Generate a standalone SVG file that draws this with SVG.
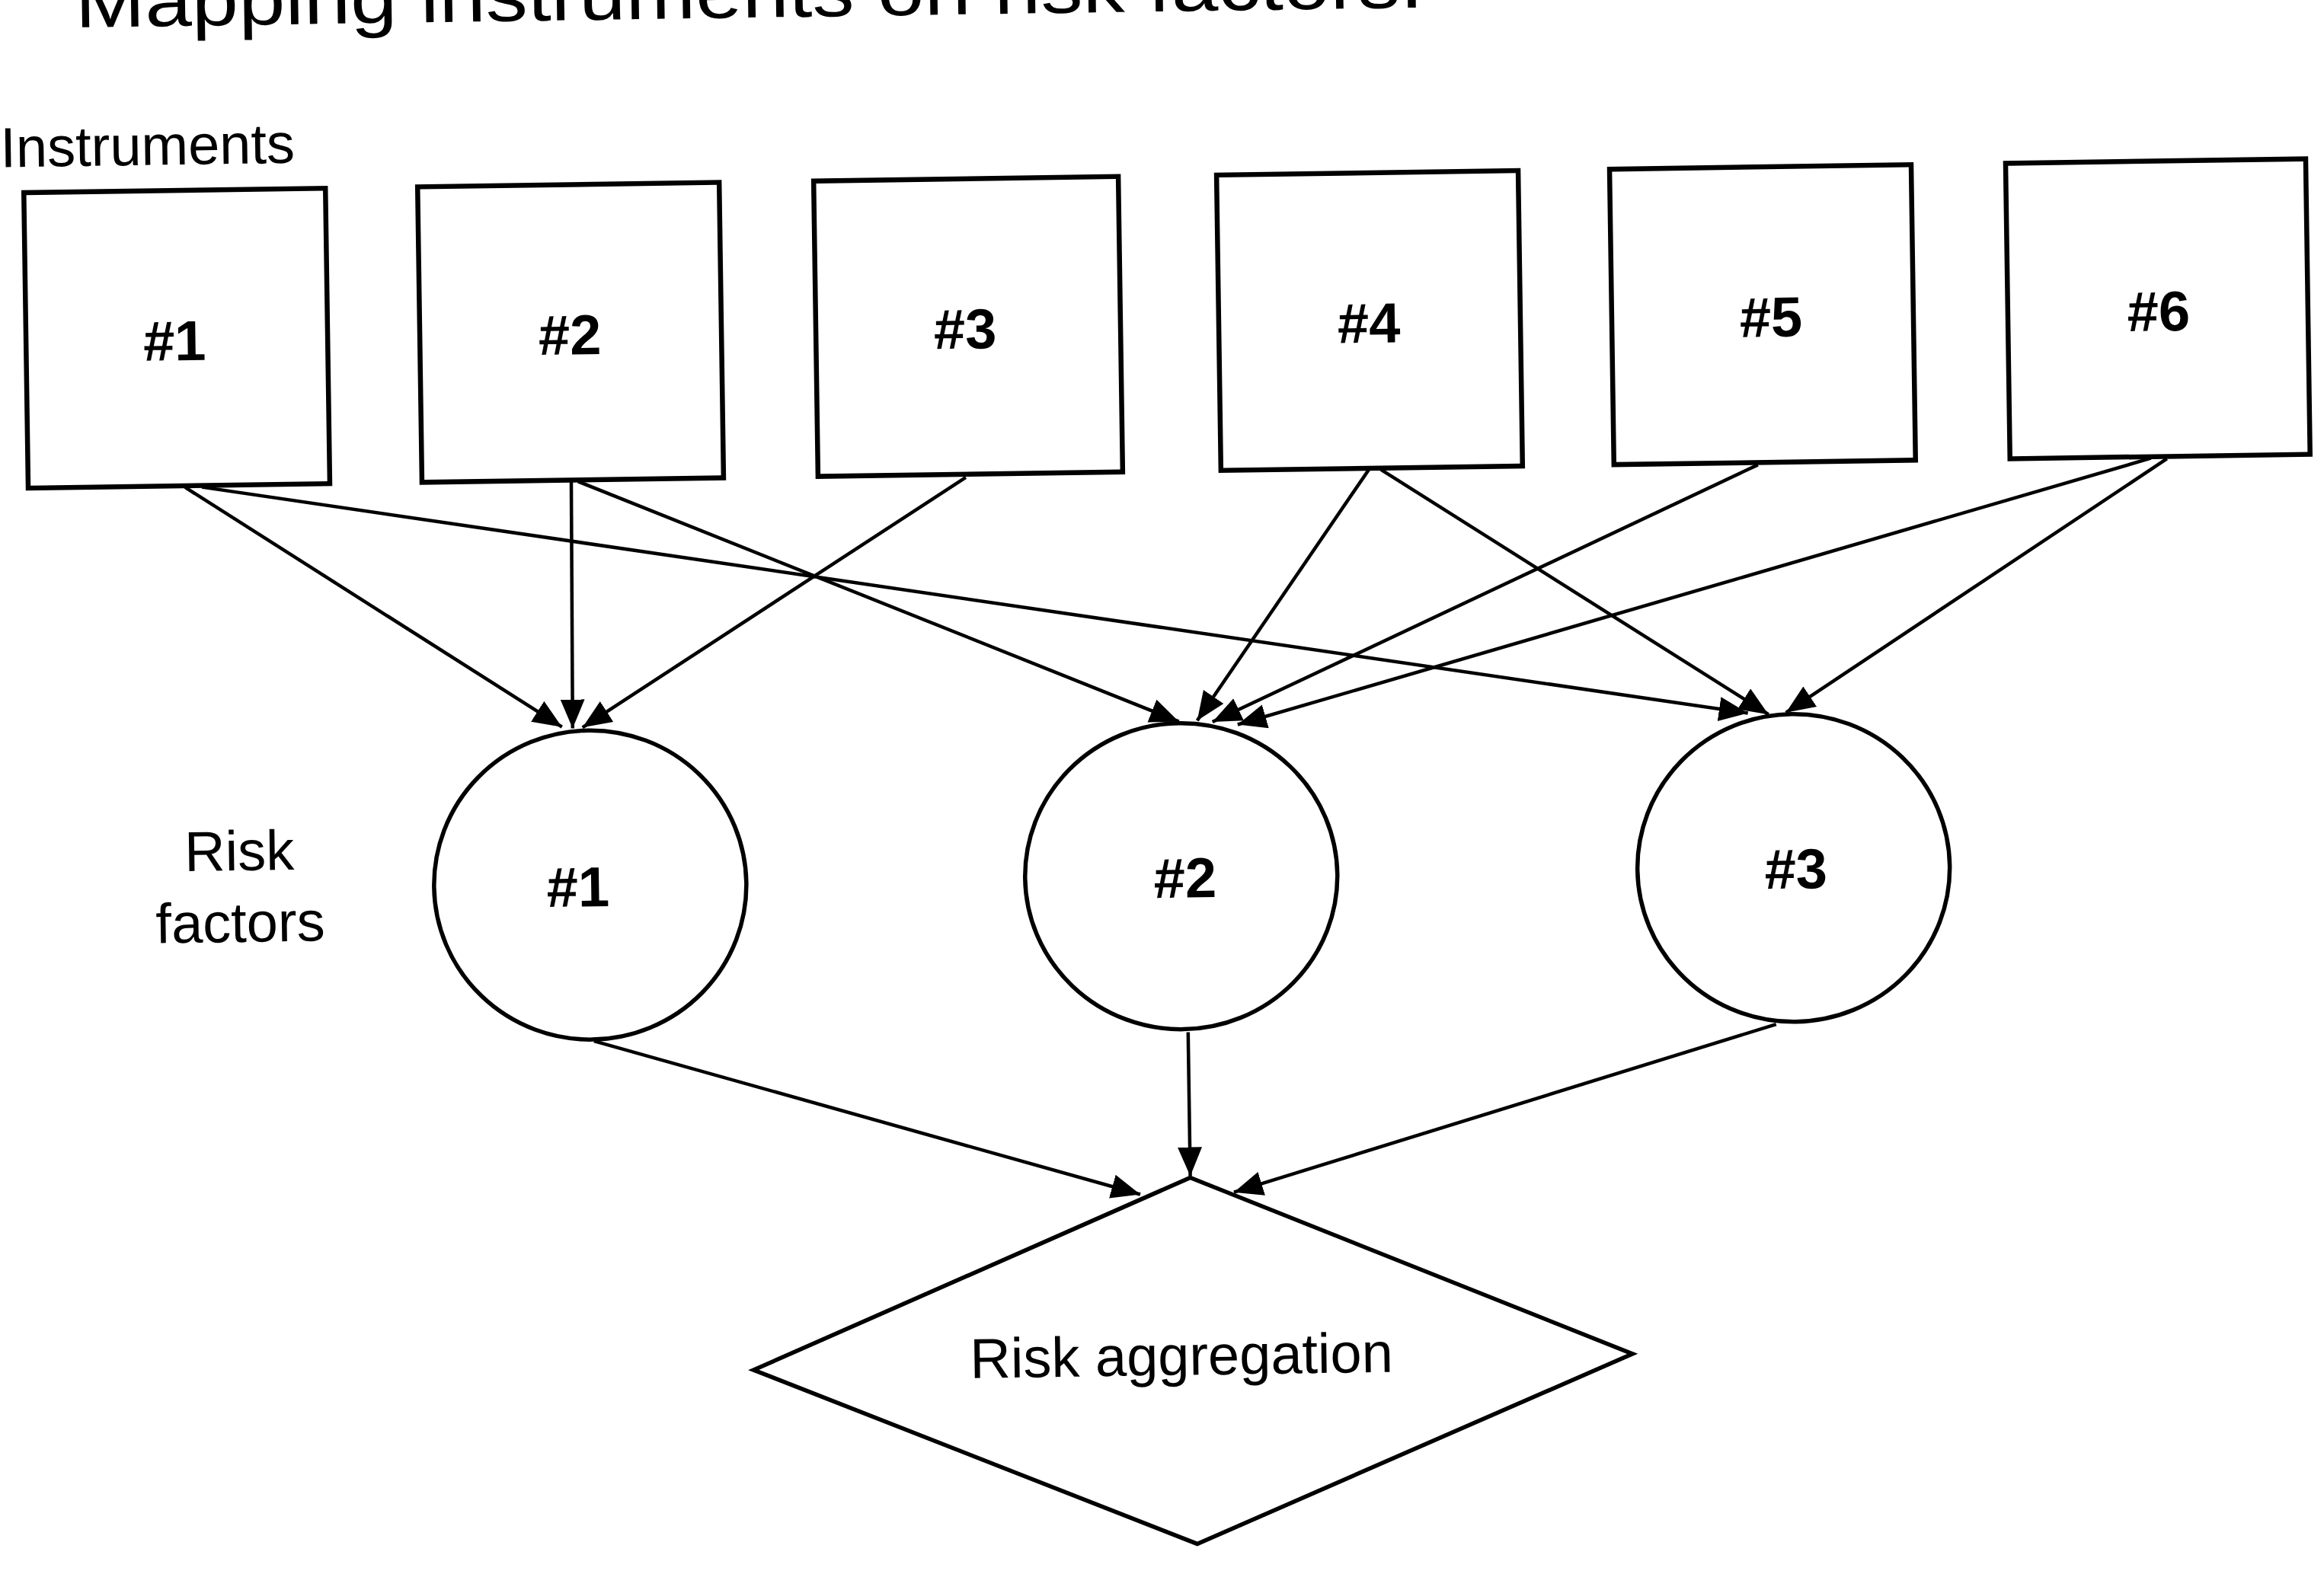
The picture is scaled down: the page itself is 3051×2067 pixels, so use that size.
<svg xmlns="http://www.w3.org/2000/svg" width="3051" height="2067" viewBox="0 0 3051 2067">
  <defs>
    <marker id="head" markerUnits="userSpaceOnUse" markerWidth="42" markerHeight="34" refX="38" refY="16" orient="auto">
      <path d="M0,0 L38,16 L0,32 Z" fill="#000"/>
    </marker>
    <style>
      text { font-family: "Liberation Sans", Arial, sans-serif; fill: #000; }
      .title { font-size: 96px; }
      .label { font-size: 74px; }
      .num { font-size: 74px; font-weight: bold; text-anchor: middle; }
      .mid { text-anchor: middle; }
      .box { fill: #fff; stroke: #000; stroke-width: 6.5; }
      .round { fill: #fff; stroke: #000; stroke-width: 5.5; }
      .diamond { fill: #fff; stroke: #000; stroke-width: 5.5; stroke-linejoin: miter; }
      .edge { fill: none; stroke: #000; stroke-width: 4.5; marker-end: url(#head); }
    </style>
  </defs>
  <rect width="3051" height="2067" fill="#fff"/>
  <!-- whole sheet sits slightly tilted -->
  <g transform="rotate(-0.85 1525 1033)">
    <text class="title" x="114" y="15" textLength="1770" lengthAdjust="spacingAndGlyphs">Mapping instruments on risk factors.</text>
    <text class="label" x="13" y="197">Instruments</text>
    <text class="label mid" x="313" y="1125">Risk</text>
    <text class="label mid" x="313" y="1219">factors</text>

    <g id="connectors">
      <line class="edge" x1="249" y1="621" x2="739" y2="943"/>
      <line class="edge" x1="271" y1="621" x2="2296" y2="948"/>
      <line class="edge" x1="756" y1="621" x2="753" y2="945"/>
      <line class="edge" x1="765" y1="621" x2="1549" y2="948"/>
      <line class="edge" x1="1274" y1="623" x2="766" y2="944"/>
      <line class="edge" x1="1803" y1="621" x2="1573" y2="947"/>
      <line class="edge" x1="1819" y1="621" x2="2323" y2="950"/>
      <line class="edge" x1="2314" y1="622" x2="1593" y2="949"/>
      <line class="edge" x1="2830" y1="621" x2="1626" y2="953"/>
      <line class="edge" x1="2851" y1="622" x2="2346" y2="948"/>
      <line class="edge" x1="775" y1="1356" x2="1489" y2="1568"/>
      <line class="edge" x1="1555" y1="1356" x2="1555" y2="1545"/>
      <line class="edge" x1="2327" y1="1357" x2="1612" y2="1567"/>
    </g>

    <g id="instrument-1"><rect class="box" x="43" y="231" width="396" height="388"/><text class="num" x="238" y="454">#1</text></g>
    <g id="instrument-2"><rect class="box" x="560" y="231" width="396" height="388"/><text class="num" x="757" y="454">#2</text></g>
    <g id="instrument-3"><rect class="box" x="1080" y="231" width="400" height="388"/><text class="num" x="1276" y="454">#3</text></g>
    <g id="instrument-4"><rect class="box" x="1609" y="231" width="396" height="388"/><text class="num" x="1806" y="454">#4</text></g>
    <g id="instrument-5"><rect class="box" x="2125" y="231" width="396" height="388"/><text class="num" x="2334" y="454">#5</text></g>
    <g id="instrument-6"><rect class="box" x="2645" y="231" width="394" height="388"/><text class="num" x="2843" y="454">#6</text></g>

    <g id="factor-1"><ellipse class="round" cx="773" cy="1151" rx="205" ry="203"/><text class="num" x="757" y="1179">#1</text></g>
    <g id="factor-2"><ellipse class="round" cx="1549" cy="1151" rx="205" ry="201"/><text class="num" x="1554" y="1179">#2</text></g>
    <g id="factor-3"><ellipse class="round" cx="2353" cy="1152" rx="205" ry="202"/><text class="num" x="2356" y="1179">#3</text></g>

    <g id="aggregation">
      <polygon class="diamond" points="1555,1547 2132,1787 1557,2028 978,1791"/>
      <text class="label mid" x="1540" y="1806">Risk aggregation</text>
    </g>
  </g>
</svg>
